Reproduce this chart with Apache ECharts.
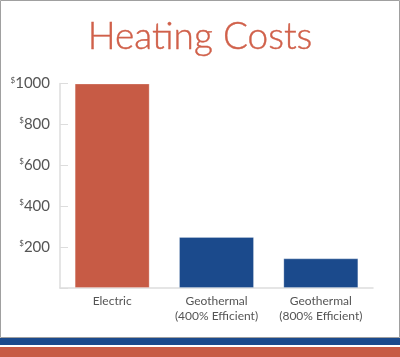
<!DOCTYPE html>
<html><head><meta charset="utf-8">
<script src="https://cdn.jsdelivr.net/npm/echarts@6/dist/echarts.min.js"></script>
<style>html,body{margin:0;padding:0;background:#fff}#c{width:400px;height:357px}</style>
</head><body><div id="c"></div>
<script>
const categories = ['Electric', 'Geothermal\n(400% Efficient)', 'Geothermal\n(800% Efficient)'];
const costs = [1000, 250, 145];
const barColors = ['#C75B45', '#1B4A8C', '#1B4A8C'];
const yTicks = [0, 200, 400, 600, 800, 1000];

const chart = echarts.init(document.getElementById('c'), null, {renderer: 'canvas'});
chart.setOption({
  animation: false,
  backgroundColor: '#fff',
  title: {
    text: 'Heating Costs', left: 'center', top: 14,
    textStyle: {fontFamily: 'Lato', fontWeight: 300, fontSize: 37, color: '#D0604A', textBorderColor: '#D0604A', textBorderWidth: 0.4}
  },
  grid: {left: 60, right: 27, top: 83.5, bottom: 69},
  xAxis: {
    type: 'category', data: categories,
    axisLine: {lineStyle: {color: '#dddddd', width: 1.5}},
    axisTick: {inside: true, length: 6, lineStyle: {color: '#dddddd'}},
    axisLabel: {color: '#555', fontFamily: 'Lato', fontSize: 12, lineHeight: 15, margin: 6, interval: 0, hideOverlap: false}
  },
  yAxis: {
    type: 'value', min: yTicks[0], max: yTicks[yTicks.length - 1], interval: 200,
    axisLine: {show: true, lineStyle: {color: '#dddddd', width: 1.5}},
    axisTick: {show: true, inside: true, length: 8, lineStyle: {color: '#dddddd'}},
    splitLine: {show: false},
    axisLabel: {
      margin: 10,
      formatter: v => v === 0 ? '' : '{s|$}{n|' + v + '}',
      rich: {
        s: {fontSize: 8, color: '#555', fontFamily: 'Lato', verticalAlign: 'top', padding: [0, 0, 6, 0]},
        n: {fontSize: 15, color: '#555', fontFamily: 'Lato'}
      }
    }
  },
  series: [{
    type: 'bar', barWidth: 75,
    data: costs.map((v, i) => ({value: v, itemStyle: {color: barColors[i]}})),
    itemStyle: {borderColor: 'rgba(255,255,255,0.25)', borderWidth: 1}
  }],
  graphic: [
    {type: 'rect', shape: {x: 0.5, y: 0.5, width: 399, height: 337}, style: {fill: 'none', stroke: '#a0a0a0', lineWidth: 1}, silent: true},
    {type: 'rect', shape: {x: 0, y: 338, width: 400, height: 7}, style: {fill: '#1B4A8C'}, silent: true},
    {type: 'rect', shape: {x: 0, y: 347, width: 400, height: 10}, style: {fill: '#C75B45'}, silent: true}
  ]
});
</script></body></html>
